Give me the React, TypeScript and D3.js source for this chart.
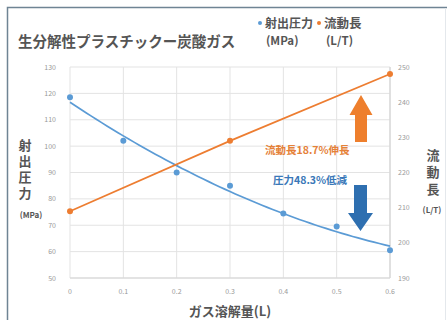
import React from "react";
import * as d3 from "d3";

const gasAmounts = [0, 0.1, 0.2, 0.3, 0.4, 0.5, 0.6];
const pressure = [118.5, 102, 90, 85, 74.5, 69.5, 60.5];
const flowX = [0, 0.3, 0.6];
const flowLength = [209, 229, 248];
const leftTicks = [50, 60, 70, 80, 90, 100, 110, 120, 130];
const rightTicks = [190, 200, 210, 220, 230, 240, 250];
const xTicks = [0, 0.1, 0.2, 0.3, 0.4, 0.5, 0.6];

const title = "生分解性プラスチックー炭酸ガス";
const legendPressure = ["射出圧力", "(MPa)"];
const legendFlow = ["流動長", "(L/T)"];
const leftTitle = "射出圧力";
const rightTitle = "流動長";
const xTitle = "ガス溶解量(L)";
const noteFlow = "流動長18.7%伸長";
const notePressure = "圧力48.3%低減";

const BLUE = "#5b9bd5";
const ORANGE = "#ed7d31";
const FONT = "'Noto Sans CJK JP', 'Noto Sans', sans-serif";

function quadFit(xs: number[], ys: number[]) {
  let s0 = 0, s1 = 0, s2 = 0, s3 = 0, s4 = 0, t0 = 0, t1 = 0, t2 = 0;
  xs.forEach((x, i) => {
    const y = ys[i];
    s0 += 1; s1 += x; s2 += x * x; s3 += x ** 3; s4 += x ** 4;
    t0 += y; t1 += x * y; t2 += x * x * y;
  });
  const A = [[s0, s1, s2, t0], [s1, s2, s3, t1], [s2, s3, s4, t2]];
  for (let i = 0; i < 3; i++) {
    for (let k = i + 1; k < 3; k++) {
      const f = A[k][i] / A[i][i];
      for (let j = i; j < 4; j++) A[k][j] -= f * A[i][j];
    }
  }
  const c = [0, 0, 0];
  for (let i = 2; i >= 0; i--) {
    let s = A[i][3];
    for (let j = i + 1; j < 3; j++) s -= A[i][j] * c[j];
    c[i] = s / A[i][i];
  }
  return (x: number) => c[0] + c[1] * x + c[2] * x * x;
}

export default function App() {
  const x = d3.scaleLinear().domain([0, 0.6]).range([70, 390]);
  const yL = d3.scaleLinear().domain([50, 130]).range([278, 67]);
  const yR = d3.scaleLinear().domain([190, 250]).range([278, 67]);

  const fit = quadFit(gasAmounts, pressure);
  const fitPts = d3.range(0, 61).map((i) => i / 100);
  const fitLine = d3.line<number>().x((d) => x(d)).y((d) => yL(fit(d)));
  const flowLine = d3.line<number>().x((d, i) => x(flowX[i])).y((d) => yR(d));

  return (
    <svg width={447} height={320} style={{ position: "absolute", left: 0, top: 0, background: "#fff" }} fontFamily={FONT}>
      <rect x={0} y={0} width={447} height={320} fill="#fff" />
      <rect x={7.5} y={7.5} width={460} height={340} fill="none" stroke="#6f8494" strokeWidth={1.5} />
      <line x1={445.5} y1={8} x2={445.5} y2={320} stroke="#e4e8ec" strokeWidth={1} />

      <text x={18} y={47} fontSize={14.5} fontWeight="bold" fill="#555">{title}</text>

      <circle cx={260} cy={23} r={2} fill={BLUE} />
      <text x={265} y={27.5} fontSize={12} fontWeight="bold" fill="#555">{legendPressure[0]}</text>
      <text x={266} y={44.5} fontSize={11.5} fontWeight="bold" fill="#555">{legendPressure[1]}</text>
      <circle cx={319} cy={23} r={2} fill={ORANGE} />
      <text x={324} y={27.5} fontSize={12.5} fontWeight="bold" fill="#555">{legendFlow[0]}</text>
      <text x={326} y={44.5} fontSize={11.5} fontWeight="bold" fill="#555">{legendFlow[1]}</text>

      {leftTicks.map((t) => (
        <line key={"h" + t} x1={70} x2={390} y1={yL(t)} y2={yL(t)} stroke="#e3e3e3" strokeWidth={1} />
      ))}
      {xTicks.map((t) => (
        <line key={"v" + t} x1={x(t)} x2={x(t)} y1={67} y2={278} stroke="#e3e3e3" strokeWidth={1} />
      ))}
      <line x1={70} x2={390} y1={278} y2={278} stroke="#d6d6d6" strokeWidth={1.2} />
      <line x1={390} x2={390} y1={67} y2={278} stroke="#d6d6d6" strokeWidth={1.2} />

      {leftTicks.map((t) => (
        <text key={"l" + t} x={56} y={yL(t) + 2.5} fontSize={7} textAnchor="end" fill="#999">{t}</text>
      ))}
      {rightTicks.map((t) => (
        <text key={"r" + t} x={398} y={yR(t) + 2.5} fontSize={7} fill="#999">{t}</text>
      ))}
      {xTicks.map((t) => (
        <text key={"x" + t} x={x(t)} y={294} fontSize={7} textAnchor="middle" fill="#999">{t === 0 ? "0" : String(t)}</text>
      ))}

      <text x={230} y={316} fontSize={13} fontWeight="bold" textAnchor="middle" fill="#555">{xTitle}</text>

      <text x={25} y={138.5} fontSize={13} fontWeight="bold" fill="#555"
        style={{ writingMode: "vertical-rl", letterSpacing: "3px" }}>{leftTitle}</text>
      <text x={31} y={218} fontSize={8} fontWeight="bold" textAnchor="middle" fill="#555">(MPa)</text>
      <text x={433} y={148.5} fontSize={13} fontWeight="bold" fill="#555"
        style={{ writingMode: "vertical-rl", letterSpacing: "4px" }}>{rightTitle}</text>
      <text x={432} y={213} fontSize={8} fontWeight="bold" textAnchor="middle" fill="#555">(L/T)</text>

      <path d={fitLine(fitPts) || ""} fill="none" stroke={BLUE} strokeWidth={1.7} />
      {pressure.map((v, i) => (
        <circle key={"p" + i} cx={x(gasAmounts[i])} cy={yL(v)} r={3} fill={BLUE} />
      ))}
      <path d={flowLine(flowLength) || ""} fill="none" stroke={ORANGE} strokeWidth={1.7} />
      {flowLength.map((v, i) => (
        <circle key={"f" + i} cx={x(flowX[i])} cy={yR(v)} r={3} fill={ORANGE} />
      ))}

      <text x={265} y={154} fontSize={10.5} fontWeight="bold" fill="#e58138">{noteFlow}</text>
      <text x={273} y={184} fontSize={10.5} fontWeight="bold" fill="#3a78b8">{notePressure}</text>

      <path d="M355,142 L355,115 L349.5,115 L361,95 L372.5,115 L367,115 L367,142 Z" fill="#ee7f2d" />
      <path d="M354,185 L354,213 L348,213 L360.5,231 L373,213 L367,213 L367,185 Z" fill="#2e6fb0" />
    </svg>
  );
}
